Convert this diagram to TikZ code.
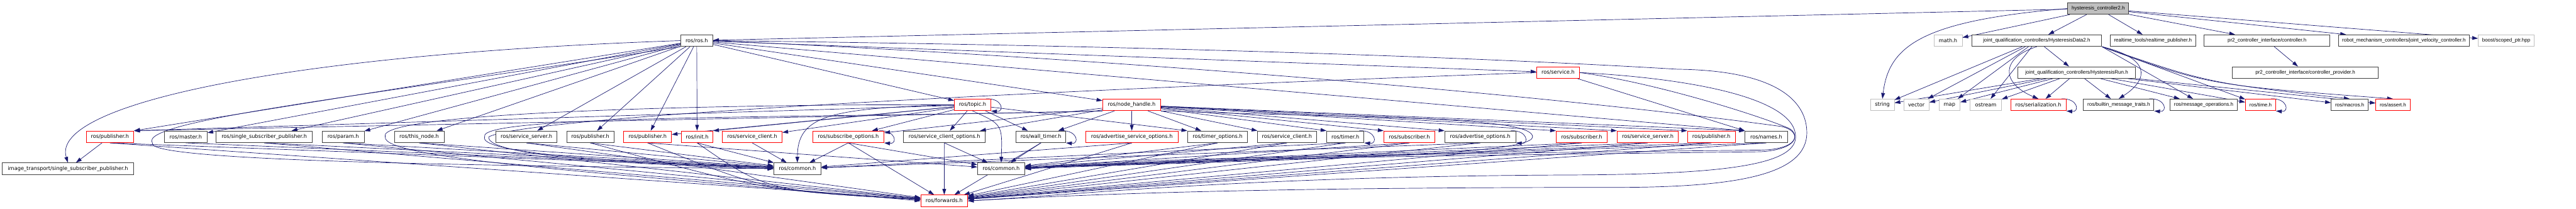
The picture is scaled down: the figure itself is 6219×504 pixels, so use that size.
\documentclass[tikz,border=0pt]{standalone}
\usepackage{fontspec}
\usetikzlibrary{arrows.meta}
\newfontfamily\dvfont{DejaVu Sans}
\newfontfamily\lbfont{Liberation Sans}
\definecolor{edgeblue}{HTML}{191970}
\definecolor{boxgray}{HTML}{404040}
\definecolor{sysgray}{HTML}{BFBFBF}
\pgfdeclarelayer{bg}
\pgfsetlayers{bg,main}
\tikzset{
  file/.style={draw=boxgray, line width=0.37pt, fill=white, inner sep=0pt,
    minimum height=0.28cm, font=\dvfont\fontsize{3.55}{4.2}\selectfont},
  redfile/.style={file, draw=red},
  sysfile/.style={file, draw=sysgray},
  hv/.style={font=\lbfont\fontsize{3.45}{4.2}\selectfont},
  bw/.style={minimum width=#1*0.01cm},
  dep/.style={draw=edgeblue, line width=0.3pt, -{Triangle[length=1.4mm,width=0.9mm]}},
}

\begin{document}
\begin{tikzpicture}[x=0.01cm,y=-0.01cm]
	\useasboundingbox (0,0) rectangle (6219,504);
	
	% The documented header
	\node[file, hv, fill=sysgray, bw=147] (hc) at (5065.5,20.5) {hysteresis\_controller2.h};
	
	% Direct includes
	\node[file, bw=78] (rosh) at (1682,98) {ros/ros.h};
	\node[sysfile, bw=68] (math) at (4703,98) {math.h};
	\node[file, hv, bw=314] (hdata) at (4917,98) {joint\_qualification\_controllers/HysteresisData2.h};
	\node[file, hv, bw=207] (rtpub) at (5197.5,98) {realtime\_tools/realtime\_publisher.h};
	\node[file, hv, bw=304] (ctrl) at (5473,98) {pr2\_controller\_interface/controller.h};
	\node[file, hv, bw=317] (jvc) at (5803.5,98) {robot\_mechanism\_controllers/joint\_velocity\_controller.h};
	\node[sysfile, hv, bw=135] (scoped) at (6050.5,98) {boost/scoped\_ptr.hpp};
	
	% Second level
	\node[redfile, bw=103] (service) at (3761.5,175) {ros/service.h};
	\node[file, hv, bw=283] (hrun) at (5013.5,175) {joint\_qualification\_controllers/HysteresisRun.h};
	\node[file, hv, bw=353] (cprov) at (5565.5,175) {pr2\_controller\_interface/controller\_provider.h};
	
	% Third level
	\node[redfile, bw=88] (topic) at (2348,253) {ros/topic.h};
	\node[redfile, bw=140] (nh) at (2732,253) {ros/node\_handle.h};
	\node[sysfile, bw=57] (string) at (4544.5,253) {string};
	\node[sysfile, bw=61] (vector) at (4626.5,253) {vector};
	\node[sysfile, bw=51] (map) at (4706.5,253) {map};
	\node[sysfile, bw=76] (ostream) at (4794,253) {ostream};
	\node[redfile, bw=134] (serial) at (4921,253) {ros/serialization.h};
	\node[file, hv, bw=170] (bmt) at (5115,253) {ros/builtin\_message\_traits.h};
	\node[file, hv, bw=162] (msgops) at (5320,253) {ros/message\_operations.h};
	\node[redfile, hv, bw=73] (time) at (5457.5,253) {ros/time.h};
	\node[file, hv, bw=89] (macros) at (5672.5,253) {ros/macros.h};
	\node[redfile, hv, bw=82] (assert) at (5777,253) {ros/assert.h};
	
	% roscpp row
	\node[redfile, bw=115] (pubA) at (265.5,330) {ros/publisher.h};
	\node[file, bw=103] (master) at (448.5,330) {ros/master.h};
	\node[file, bw=232] (sspub) at (638,330) {ros/single\_subscriber\_publisher.h};
	\node[file, bw=101] (param) at (828.5,330) {ros/param.h};
	\node[file, bw=120] (thisnode) at (1012,330) {ros/this\_node.h};
	\node[file, bw=148] (ssrvA) at (1271,330) {ros/service\_server.h};
	\node[file, bw=114] (pubB) at (1425,330) {ros/publisher.h};
	\node[redfile, bw=115] (pubC) at (1563.5,330) {ros/publisher.h};
	\node[redfile, bw=76] (init) at (1683,330) {ros/init.h};
	\node[redfile, bw=144] (sclA) at (1816,330) {ros/service\_client.h};
	\node[redfile, bw=172] (subopt) at (2048,330) {ros/subscribe\_options.h};
	\node[file, bw=198] (scopt) at (2280,330) {ros/service\_client\_options.h};
	\node[file, bw=120] (wtimer) at (2513,330) {ros/wall\_timer.h};
	\node[redfile, bw=223] (asopt) at (2732.5,330) {ros/advertise\_service\_options.h};
	\node[file, bw=145] (topt) at (2939.5,330) {ros/timer\_options.h};
	\node[file, bw=144] (sclB) at (3107,330) {ros/service\_client.h};
	\node[file, bw=90] (timer) at (3248,330) {ros/timer.h};
	\node[redfile, bw=123] (subA) at (3402.5,330) {ros/subscriber.h};
	\node[file, bw=171] (adopt) at (3573.5,330) {ros/advertise\_options.h};
	\node[redfile, bw=123] (subB) at (3818.5,330) {ros/subscriber.h};
	\node[redfile, bw=148] (ssrvB) at (3978,330) {ros/service\_server.h};
	\node[redfile, bw=115] (pubD) at (4131.5,330) {ros/publisher.h};
	\node[file, bw=102] (names) at (4264,330) {ros/names.h};
	
	% Bottom rows
	\node[file, bw=318] (itssp) at (164,407) {image\_transport/single\_subscriber\_publisher.h};
	\node[file, bw=114] (commonA) at (1925,407) {ros/common.h};
	\node[file, bw=114] (commonB) at (2417,407) {ros/common.h};
	\node[redfile, bw=113] (fwd) at (2279.5,484.5) {ros/forwards.h};
	
	\begin{pgfonlayer}{bg}
	% From the header
	\draw[dep] (hc) -- (rosh);
	\foreach \t in {math,hdata,rtpub,ctrl,jvc,scoped} \draw[dep] (hc) -- (\t);
	\draw[dep] (hc.west) .. controls (4640,50) and (4560,110) .. (string.north);
	
	% Message headers
	\draw[dep] (hdata) -- (hrun);
	\foreach \t in {string,vector,map,ostream} \draw[dep] (hdata) -- (\t);
	\draw[dep] (hdata.south) .. controls (4830,140) and (4830,200) .. (serial.north);
	\draw[dep] (hdata.south east) .. controls (5190,140) and (5190,190) .. (bmt.north);
	\foreach \t in {msgops,time} \draw[dep] (hdata.south east) -- (\t);
	\draw[dep] (hdata.south east) .. controls (5330,200) .. (macros.north);
	\draw[dep] (hdata.south east) .. controls (5330,205) .. (assert.north);
	\foreach \t in {string,vector,map,ostream,serial,bmt,msgops,time,macros,assert} \draw[dep] (hrun) -- (\t);
	\draw[dep] (ctrl) -- (cprov);
	
	% Self includes
	\foreach \n in {topic,subopt,wtimer,timer,adopt,serial,bmt,time}
		\draw[dep] ([xshift=-1.2mm]\n.north east) .. controls +(40,-2) and +(33,3) .. (\n.south east);
	
	% ros/ros.h
	\foreach \t in {master,sspub,param,thisnode,ssrvA,pubB,pubC,init,topic,nh,service} \draw[dep] (rosh) -- (\t);
	\draw[dep] (rosh) -- (pubA.north east);
	\draw[dep] (rosh) -- (names.north west);
	\draw[dep] (rosh.west) .. controls (700,130) and (120,250) .. (itssp.north);
	\draw[dep] (pubA) -- (itssp);
	
	% ros/topic.h
	\foreach \t in {pubC,sclA,subopt,scopt,wtimer} \draw[dep] (topic) -- (\t);
	\draw[dep] (topic) -- (pubA.north east);
	\draw[dep] (topic) -- (init.north east);
	\draw[dep] (topic) -- (topt.north west);
	\draw[dep] (topic.south) .. controls (2420,300) .. (commonB.north);
	\draw[dep] (topic.west) .. controls (2000,260) and (1925,280) .. (commonA.north);
	
	% ros/node_handle.h
	\draw[dep] (nh.south west) -- (pubA.north east);
	\foreach \t in {subopt,scopt,wtimer,asopt,topt,sclB} \draw[dep] (nh) -- (\t);
	\foreach \t in {timer,subA,adopt,subB,ssrvB,pubD,names} \draw[dep] (nh) -- (\t.north west);
	\draw[dep] (service) -- (names.north west);
	
	% Into ros/common.h and ros/forwards.h
	\foreach \s in {pubA,master,sspub,param,thisnode,ssrvA,pubB,init,sclA,subopt,asopt,timer,adopt}
		\draw[dep] (\s.south) -- (commonA);
	\foreach \s in {pubC,subopt,scopt,wtimer,topt,sclB,subA,subB,ssrvB,pubD,names}
		\draw[dep] (\s.south) -- (commonB);
	\foreach \s in {pubA,sspub,param,thisnode,ssrvA,subopt,scopt,wtimer,asopt,topt,sclB,timer,subA,adopt,subB,ssrvB,pubD,names}
		\draw[dep] (\s.south) -- (fwd);
	\foreach \s in {pubB,pubC,init} \draw[dep] (\s.south) .. controls (1850,460) .. (fwd);
	
	% Long detours round the row
	\draw[dep] (rosh.east) .. controls (2800,110) and (3600,140) .. (4050,167)
		.. controls (4300,170) and (4362,250) .. (4362,320)
		.. controls (4362,420) and (4200,452) .. (3900,452)
		.. controls (3000,452) and (2600,470) .. (fwd.east);
	\draw[dep] (rosh.east) .. controls (2900,150) and (3900,250) .. (4300,305)
		.. controls (4350,315) and (4350,360) .. (4250,366)
		.. controls (3500,375) and (2700,385) .. (commonB.east);
	\draw[dep] (service.east) .. controls (4100,190) and (4335,240) .. (4335,330)
		.. controls (4335,400) and (4150,420) .. (3800,422)
		.. controls (3000,425) and (2600,470) .. (fwd.east);
	\draw[dep] (service.east) .. controls (4000,200) and (4250,280) .. (4320,310)
		.. controls (4345,325) and (4340,360) .. (4250,362)
		.. controls (3500,370) and (2700,380) .. (commonB.east);
	\draw[dep] (nh.south east) .. controls (3300,285) and (3700,280) .. (3700,330)
		.. controls (3700,380) and (3000,385) .. (commonB.east);
	\draw[dep] (nh.south west) .. controls (2000,285) and (1150,275) .. (1170,330)
		.. controls (1150,375) and (1600,395) .. (commonA.west);
	\draw[dep] (service.west) .. controls (3000,200) and (1300,270) .. (1180,330)
		.. controls (1170,380) and (1600,400) .. (commonA.west);
	\draw[dep] (topic.west) .. controls (1900,250) and (900,265) .. (930,330)
		.. controls (920,385) and (1500,420) .. (fwd.west);
	\draw[dep] (rosh.south west) .. controls (900,230) and (330,290) .. (368,345)
		.. controls (350,390) and (1200,400) .. (commonA.west);
	\end{pgfonlayer}
	
\end{tikzpicture}
\end{document}
